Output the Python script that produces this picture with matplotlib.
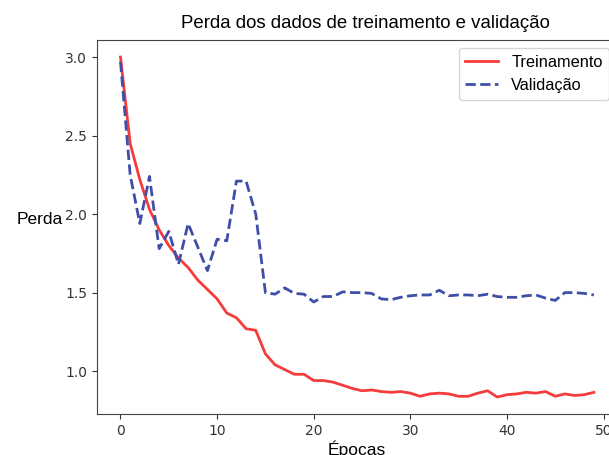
import matplotlib
matplotlib.use('Agg')
import matplotlib.pyplot as plt

epocas = list(range(50))

treino = [3.00, 2.45, 2.22, 2.03, 1.90, 1.80, 1.72, 1.66, 1.58, 1.52,
          1.46, 1.37, 1.34, 1.27, 1.26, 1.11, 1.04, 1.01, 0.98, 0.98,
          0.94, 0.94, 0.93, 0.91, 0.89, 0.875, 0.88, 0.87, 0.865, 0.87,
          0.86, 0.84, 0.855, 0.86, 0.855, 0.84, 0.84, 0.86, 0.875, 0.835,
          0.85, 0.855, 0.865, 0.86, 0.87, 0.84, 0.855, 0.845, 0.85, 0.865]

validacao = [2.97, 2.25, 1.94, 2.24, 1.78, 1.89, 1.68, 1.94, 1.79, 1.64,
             1.84, 1.83, 2.21, 2.21, 2.00, 1.50, 1.49, 1.53, 1.495, 1.49,
             1.44, 1.475, 1.475, 1.505, 1.50, 1.50, 1.495, 1.46, 1.455, 1.47,
             1.48, 1.485, 1.485, 1.515, 1.48, 1.485, 1.485, 1.48, 1.49, 1.475,
             1.47, 1.47, 1.48, 1.485, 1.465, 1.45, 1.50, 1.50, 1.495, 1.485]

fig = plt.figure(figsize=(6.09, 4.55), dpi=100)
# the original picture is cropped: the right spine sits just outside the image
ax = fig.add_axes([0.159, 0.090, 0.855, 0.822])

ax.plot(epocas, treino, color='#f43c3c', lw=2, label='Treinamento')
ax.plot(epocas, validacao, color='#3f4fa8', lw=2, ls='--', label='Validação')

ax.set_title('Perda dos dados de treinamento e validação',
             fontsize=13.4, family='Liberation Sans', pad=9, x=0.515)
ax.set_xlabel('Épocas', fontsize=12.5, family='Liberation Sans', labelpad=2)
ax.set_ylabel('Perda', fontsize=12.5, family='Liberation Sans',
              rotation=0, labelpad=18)
ax.set_xticks([0, 10, 20, 30, 40, 50])
ax.set_yticks([1.0, 1.5, 2.0, 2.5, 3.0])
ax.tick_params(labelsize=10, colors='#333333')
for s in ax.spines.values():
    s.set_color('#444444')

leg = ax.legend(loc='upper right', prop={'family': 'Liberation Sans', 'size': 11.8})

fig.savefig('out.png', dpi=100)
